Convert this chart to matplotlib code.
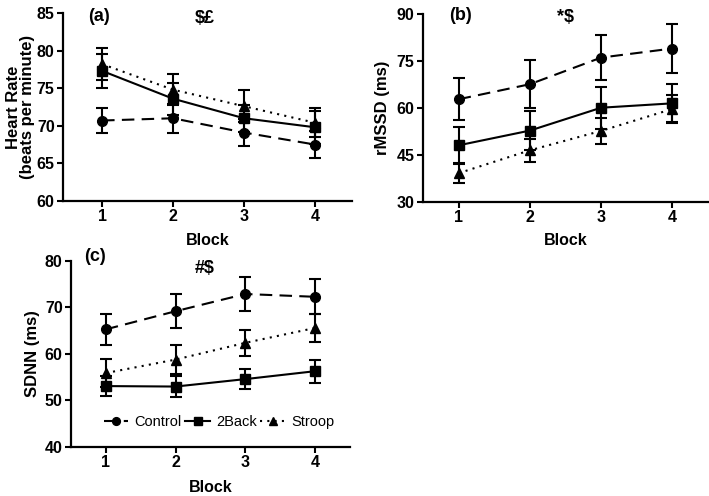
import numpy as np
import matplotlib.pyplot as plt

plt.rcParams['font.family'] = ['Liberation Sans', 'DejaVu Sans']

blocks = [1, 2, 3, 4]
groups = ['Control', '2Back', 'Stroop']

# (a) heart rate
hr_mean = {'Control': [70.7, 71.0, 69.1, 67.5],
           '2Back': [77.3, 73.6, 71.0, 69.8],
           'Stroop': [78.2, 74.8, 72.6, 70.4]}
hr_err = {'Control': [1.6, 1.9, 1.8, 1.8],
          '2Back': [2.3, 2.1, 1.8, 2.2],
          'Stroop': [2.1, 2.1, 2.1, 1.9]}

# (b) rMSSD
rmssd_mean = {'Control': [62.8, 67.6, 76.1, 79.0],
              '2Back': [48.1, 52.8, 60.1, 61.5],
              'Stroop': [39.2, 46.5, 52.7, 59.7]}
rmssd_err = {'Control': [6.7, 7.6, 7.3, 7.9],
             '2Back': [6.0, 6.1, 6.7, 6.1],
             'Stroop': [3.1, 3.7, 4.1, 4.6]}

# (c) SDNN
sdnn_mean = {'Control': [65.3, 69.2, 72.9, 72.3],
             '2Back': [53.1, 53.0, 54.6, 56.3],
             'Stroop': [55.9, 58.8, 62.4, 65.6]}
sdnn_err = {'Control': [3.4, 3.6, 3.6, 3.8],
            '2Back': [2.2, 2.3, 2.1, 2.5],
            'Stroop': [3.0, 3.1, 2.8, 3.0]}

styles = {'Control': dict(marker='o', linestyle=(0, (6, 3.5))),
          '2Back': dict(marker='s', linestyle='-'),
          'Stroop': dict(marker='^', linestyle=(0, (1, 2.5)))}

fig = plt.figure(figsize=(7.09, 4.96), dpi=100)
ax_a = fig.add_axes([0.0889, 0.5948, 0.4076, 0.379])
ax_b = fig.add_axes([0.5966, 0.5927, 0.402, 0.379])
ax_c = fig.add_axes([0.1001, 0.0988, 0.3935, 0.375])


def draw(ax, means, errs, ylim, yticks, ylabel, ylab_x, xlab_y,
         letter, sig, letter_xy, sig_xy):
    lines = []
    for g in groups:
        c = ax.errorbar(blocks, means[g], yerr=errs[g], color='black', lw=1.5,
                        ms=7, capsize=4, capthick=1.5, elinewidth=1.5,
                        label=g, **styles[g])
        lines.append(c[0])
    ax.set_xlim(0.5, 4.5)
    ax.set_ylim(*ylim)
    ax.set_yticks(yticks)
    ax.set_xticks(blocks)
    for s in ['top', 'right']:
        ax.spines[s].set_visible(False)
    for s in ['left', 'bottom']:
        ax.spines[s].set_linewidth(1.6)
    ax.tick_params(width=1.5, length=4, labelsize=11.5, pad=2)
    for lab in ax.get_xticklabels() + ax.get_yticklabels():
        lab.set_fontweight('bold')
    ax.set_xlabel('Block', fontsize=11.5, fontweight='bold')
    ax.xaxis.set_label_coords(0.5, xlab_y)
    ax.set_ylabel(ylabel, fontsize=12, fontweight='bold', linespacing=0.95)
    ax.yaxis.set_label_coords(ylab_x, 0.5)
    ax.text(letter_xy[0], letter_xy[1], letter, fontsize=13, fontweight='bold',
            ha='center', va='center', clip_on=False)
    ax.text(sig_xy[0], sig_xy[1], sig, fontsize=13, fontweight='bold',
            ha='center', va='center', clip_on=False)
    return lines


draw(ax_a, hr_mean, hr_err, (60, 85), [60, 65, 70, 75, 80, 85],
     'Heart Rate\n(beats per minute)', -0.097, -0.17,
     '(a)', r'\$£', (0.95, 84.6), (2.45, 84.3))
ax_a.set_xlim(0.45, 4.52)
draw(ax_b, rmssd_mean, rmssd_err, (30, 90), [30, 45, 60, 75, 90],
     'rMSSD (ms)', -0.116, -0.165,
     '(b)', r'*\$', (1.03, 89.4), (2.5, 89.0))
handles = draw(ax_c, sdnn_mean, sdnn_err, (40, 80), [40, 50, 60, 70, 80],
               'SDNN (ms)', -0.111, -0.177,
               '(c)', r'#\$', (0.85, 81.0), (2.42, 78.4))

ax_c.legend(handles=handles, labels=groups, loc='center', bbox_to_anchor=(0.53, 0.136),
            ncol=3, frameon=False, fontsize=10.5, handlelength=1.7, markerscale=0.8,
            handletextpad=0.4, columnspacing=0.25, borderpad=0)

fig.savefig('out.png', dpi=100)
